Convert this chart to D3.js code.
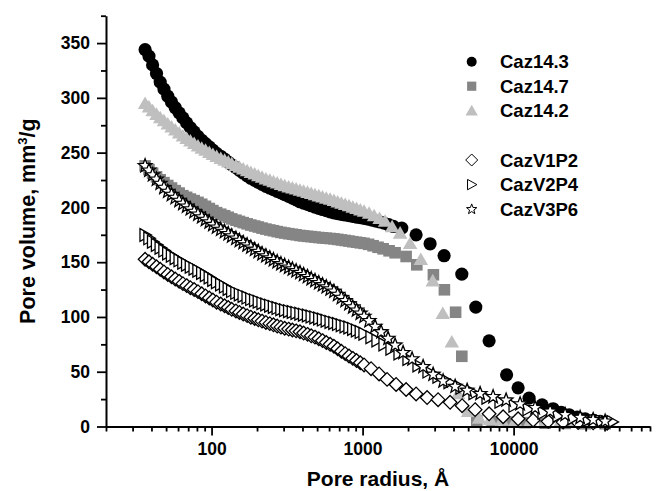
<!DOCTYPE html>
<html>
<head>
<meta charset="utf-8">
<script src="https://cdn.jsdelivr.net/npm/d3@7"></script>
<style>
body { margin: 0; background: #fff; }
svg { display: block; font-family: "Liberation Sans", Arial, sans-serif; font-weight: bold; }
</style>
</head>
<body>
<svg id="chart" width="657" height="491"></svg>
<script>
// pore radius grid (Angstrom) where all six curves are densely sampled
var radDense = [36.3,38.5,40.7,43.2,45.7,48.4,51.3,54.3,57.5,61.0,64.6,68.4,72.4,76.7,81.3,86.1,91.2,96.6,
    102,108,115,122,129,136,145,153,162,172,182,193,204,216,229,243,257,272,288,305,324,343,363,385,407,
    432,457,484,513,543,575,610,646,684,724,767,813,861,912,966,1023];

// pore volume (mm3/g) on radDense
var volCaz143 = [344,338.1,330.1,322.2,314.4,308.0,301.5,296.2,291.0,286.3,281.7,277.1,272.8,268.9,264.8,
    261.3,258.2,255.3,252.3,249.3,246.7,244.1,241.4,238.8,236.3,233.9,231.4,228.9,226.6,224.8,222.9,221.1,
    219.2,217.7,216.2,214.7,213.2,211.7,210.0,208.4,206.8,205.2,203.9,202.7,201.5,200.3,199.1,198.1,197.0,
    196.0,195.0,194.3,193.7,193.1,192.5,191.9,191.2,190.6,190.0];
var volCaz147 = [237.9,234.5,231.1,227.9,225.2,222.6,220.0,217.7,215.3,213.1,210.7,209.2,207.6,206.2,204.6,
    202.9,201.0,199.0,197.1,195.2,193.8,192.4,191.0,189.5,188.3,187.2,186.1,185.0,183.9,183.0,182.1,181.1,
    180.2,179.4,178.7,177.9,177.2,176.6,176.0,175.5,175.0,174.4,174.0,173.6,173.3,172.9,172.5,172.2,171.9,
    171.6,171.3,170.8,170.3,169.8,169.3,168.7,168.2,167.7,167.2];
var volCaz142 = [295.3,292.0,288.6,285.3,282.3,279.4,276.5,273.7,271.0,268.3,265.5,263.3,261.0,258.8,256.5,
    254.4,252.5,250.6,248.6,246.8,245.1,243.5,241.9,240.3,238.6,237.1,235.4,233.8,232.2,230.8,229.3,227.9,
    226.4,225.1,223.8,222.6,221.3,220.1,219.1,218.1,217.1,216.1,215.1,214.1,213.0,212.0,210.9,209.9,208.8,
    207.8,206.6,205.4,204.2,203.0,201.8,200.6,199.4,198.1,196.9];
var volV1P2 = [152.6,150.4,148.1,145.8,143.5,141.1,138.8,136.7,134.6,132.5,130.4,128.6,126.7,125.0,123.1,
    121.2,119.2,117.3,115.4,113.5,111.8,110.2,108.6,107.0,105.5,104.1,102.7,101.2,99.8,98.6,97.4,96.2,95.0,
    93.9,92.8,91.7,90.7,89.7,88.9,88.1,87.3,86.5,85.3,84.1,82.8,81.6,80.1,78.4,76.7,75.0,73.2,71.0,68.7,
    66.5,64.3,62.2,60.2,58.2,56.2];
var volV2P4 = [174.8,171.8,168.7,165.8,163.2,160.6,158.0,155.9,153.7,151.7,149.5,147.7,145.8,144.1,142.2,
    140.2,138.1,136.0,133.8,131.7,129.6,127.7,125.6,123.6,122.0,120.6,119.2,117.7,116.3,115.1,113.9,112.6,
    111.4,110.3,109.2,108.1,107.1,106.1,105.3,104.5,103.7,102.9,102.1,101.3,100.4,99.6,98.6,97.6,96.6,95.5,
    94.5,93.5,92.4,91.4,90.4,89.1,87.6,86.2,84.7];
var volV3P6 = [237.9,233.8,229.6,225.6,221.8,218.0,214.5,211.7,208.9,206.2,203.4,201.0,198.5,196.1,193.7,
    191.2,188.9,186.6,184.2,181.9,179.8,177.9,175.8,173.8,171.7,169.7,167.7,165.6,163.6,161.6,159.6,157.6,
    155.6,153.8,152.1,150.3,148.5,146.9,145.2,143.6,142.0,140.4,138.5,136.7,134.8,133.0,131.1,129.2,127.3,
    125.4,123.3,120.4,117.6,114.8,111.9,109.0,106.1,103.3,100.4];

// sparser large-radius parts, each series its own radii
var radCaz143Tail = [1087,1156,1229,1306,1388,1487,1600,1818,2261,2799,3465,4540,5618,6881,8986,10710,
    12660,15440,18260,20640,23310,26340,29760,33620,37400,41610];
var volCaz143Tail = [189.3,188.4,187.5,186.7,185.7,184.2,182.6,181.1,175.0,166.8,155.9,139.1,109.0,78.2,
    47.2,35.3,25.9,19.8,16.2,13.0,10.7,8.6,7.0,5.7,4.7,3.8];
var radCaz147Tail = [1096,1174,1266,1367,1498,1642,1942,2286,2944,3481,4130,4540,5704,7205,9197,11920,
    16170,21930,29760,40360];
var volCaz147Tail = [166.3,165.0,163.6,162.2,160.4,158.6,155.2,147.6,138.5,124.8,104.3,64.1,5.2,4.5,4.0,
    3.5,3.0,2.8,2.5,2.5];
var radCaz142Tail = [1104,1192,1296,1409,1568,1772,2064,2429,2917,3397,3897,4291,4996,5908,6988,8356,
    10230,12860,16170,20320,25550,32110,37400,42910];
var volCaz142Tail = [195.0,192.7,190.3,187.8,182.7,176.9,167.4,152.8,133.3,103.5,77.6,30.4,14,8,6.5,6,
    5.5,5,4.8,4.5,4.3,4.2,4,4.5];
var radV1P2Tail = [1138,1286,1453,1667,1942,2261,2674,3162,3797,4560,5559,6881,8520,10710,13460,16930,
    21270,26750,33620,41610];
var volV1P2Tail = [52.8,48.0,43.0,38.4,33.8,29.7,26.4,24.5,22.1,19.0,15.4,11.6,8.9,7.0,5.8,4.7,4.0,3.6,
    3.3,2.9];
var radV2P4Tail = [1138,1247,1388,1544,1745,2001,2331,2715,3162,3740,4491,5475,6676,8139,10080,12470,
    15680,19710,24770,31150,37970,44920];
var volV2P4Tail = [81.5,78.5,74.9,71.0,66.6,61.6,55.8,50.1,45.4,40.4,35.4,30.4,26.3,22.6,18.9,15.7,12.5,
    9.8,7.6,5.9,4.9,4.2];
var radV3P6Tail = [1104,1210,1326,1475,1642,1854,2127,2516,2931,3413,4099,4922,5999,7315,8918,11040,
    13880,17450,21930,27570,33620,40360];
var volV3P6Tail = [96.4,91.3,86.3,80.3,74.2,67.3,61.5,54.5,47.5,41.4,36.5,32.9,29.9,27.1,24.0,20.5,17.0,
    13.8,10.7,8.1,6.2,4.7];

var yTicks = [0,50,100,150,200,250,300,350];
var xTicks = [100,1000,10000];

var series = [
    {name:'Caz14.3', shape:'circle',   fill:'#000000', open:false, vol:volCaz143, rt:radCaz143Tail, vt:volCaz143Tail},
    {name:'Caz14.7', shape:'square',   fill:'#858585', open:false, vol:volCaz147, rt:radCaz147Tail, vt:volCaz147Tail},
    {name:'Caz14.2', shape:'triangle', fill:'#bfbfbf', open:false, vol:volCaz142, rt:radCaz142Tail, vt:volCaz142Tail},
    {name:'CazV1P2', shape:'diamond',  fill:'#ffffff', open:true,  vol:volV1P2,   rt:radV1P2Tail,   vt:volV1P2Tail},
    {name:'CazV2P4', shape:'rtri',     fill:'#ffffff', open:true,  vol:volV2P4,   rt:radV2P4Tail,   vt:volV2P4Tail},
    {name:'CazV3P6', shape:'star',     fill:'#ffffff', open:true,  vol:volV3P6,   rt:radV3P6Tail,   vt:volV3P6Tail}
];

var markSize = {circle:6.6, square:5.8, triangle:6.6, diamond:6.8, rtri:6.4, star:7.2};
var legSize = {circle:5, square:4.6, triangle:5.6, diamond:6, rtri:5.2, star:5.4};

function shapePath(kind, s) {
    if (kind === 'circle') {
        return d3.symbol(d3.symbolCircle, Math.PI * s * s)();
    }
    if (kind === 'square') {
        return 'M' + (-s) + ',' + (-s) + 'h' + (2 * s) + 'v' + (2 * s) + 'h' + (-2 * s) + 'Z';
    }
    if (kind === 'triangle') {
        return 'M0,' + (-s) + 'L' + (s * 1.1) + ',' + (s * 0.9) + 'L' + (-s * 1.1) + ',' + (s * 0.9) + 'Z';
    }
    if (kind === 'diamond') {
        return 'M0,' + (-s) + 'L' + s + ',0L0,' + s + 'L' + (-s) + ',0Z';
    }
    if (kind === 'rtri') {
        return 'M' + (-s * 0.8) + ',' + (-s) + 'L' + s + ',0L' + (-s * 0.8) + ',' + s + 'Z';
    }
    // five-point star
    var pts = [];
    for (var i = 0; i < 10; i++) {
        var a = -Math.PI / 2 + i * Math.PI / 5;
        var rr = (i % 2 === 0) ? s : s * 0.42;
        pts.push([rr * Math.cos(a), rr * Math.sin(a)]);
    }
    return 'M' + pts.map(function (p) { return p[0].toFixed(2) + ',' + p[1].toFixed(2); }).join('L') + 'Z';
}

const svg = d3.select('#chart');
const plotLeft = 106, plotRight = 650, plotTop = 15.7, plotBottom = 426.5;

const x = d3.scaleLog().domain([20, 80000]).range([plotLeft, plotRight]);
const y = d3.scaleLinear().domain([0, 375]).range([plotBottom, plotTop]);

// markers
series.forEach(function (s) {
    var pts = radDense.map(function (r, i) { return {r: r, v: s.vol[i]}; });
    s.rt.forEach(function (r, i) { pts.push({r: r, v: s.vt[i]}); });
    var g = svg.append('g');
    g.selectAll('path')
        .data(pts)
        .enter().append('path')
        .attr('transform', function (d) { return 'translate(' + x(d.r) + ',' + y(d.v) + ')'; })
        .attr('d', shapePath(s.shape, markSize[s.shape]))
        .attr('fill', s.fill)
        .attr('stroke', s.open ? '#000' : 'none')
        .attr('stroke-width', 1.3);
});

// axes
var xMinor = [];
[10, 100, 1000, 10000].forEach(function (dec) {
    for (var k = 2; k <= 9; k++) {
        var v = k * dec;
        if (v >= 20 && v <= 80000) xMinor.push(v);
    }
});
var yMinor = [25,75,125,175,225,275,325,375];

svg.append('g')
    .attr('transform', 'translate(0,' + plotBottom + ')')
    .call(d3.axisBottom(x).tickValues(xTicks).tickFormat(d3.format('d'))
        .tickSize(9).tickSizeOuter(0).tickPadding(7));
svg.append('g')
    .attr('transform', 'translate(0,' + plotBottom + ')')
    .call(d3.axisBottom(x).tickValues(xMinor).tickFormat('').tickSize(5).tickSizeOuter(0))
    .select('.domain').remove();

svg.append('g')
    .attr('transform', 'translate(' + plotLeft + ',0)')
    .call(d3.axisLeft(y).tickValues(yTicks).tickFormat(d3.format('d'))
        .tickSize(9).tickSizeOuter(0).tickPadding(7));
svg.append('g')
    .attr('transform', 'translate(' + plotLeft + ',0)')
    .call(d3.axisLeft(y).tickValues(yMinor).tickFormat('').tickSize(5).tickSizeOuter(0))
    .select('.domain').remove();

svg.selectAll('.domain').attr('stroke', '#000').attr('stroke-width', 2);
svg.selectAll('.tick line').attr('stroke', '#000').attr('stroke-width', 1.8);
svg.selectAll('.tick text')
    .attr('fill', '#000')
    .style('font-family', '"Liberation Sans", Arial, sans-serif')
    .style('font-weight', 'bold')
    .style('font-size', '17.5px');

// axis titles
svg.append('text')
    .attr('x', (plotLeft + plotRight) / 2)
    .attr('y', 485.5)
    .attr('text-anchor', 'middle')
    .style('font-size', '21px')
    .text('Pore radius, \u00C5');

const yTitle = svg.append('text')
    .attr('transform', 'translate(35,' + ((plotTop + plotBottom) / 2) + ') rotate(-90)')
    .attr('text-anchor', 'middle')
    .style('font-size', '21.5px');
yTitle.append('tspan').text('Pore volume, mm');
yTitle.append('tspan').attr('dy', -8).style('font-size', '13px').text('3');
yTitle.append('tspan').attr('dy', 8).text('/g');

// legend
var legRows = [61.7, 86.2, 110.4, 160, 184.6, 209.3];
const legend = svg.append('g');
series.forEach(function (s, i) {
    legend.append('path')
        .attr('transform', 'translate(471.7,' + legRows[i] + ')')
        .attr('d', shapePath(s.shape, legSize[s.shape]))
        .attr('fill', s.fill)
        .attr('stroke', s.open ? '#000' : 'none')
        .attr('stroke-width', 1);
    legend.append('text')
        .attr('x', 500)
        .attr('y', legRows[i] + 6.7)
        .style('font-size', '18.5px')
        .text(s.name);
});
</script>
</body>
</html>
